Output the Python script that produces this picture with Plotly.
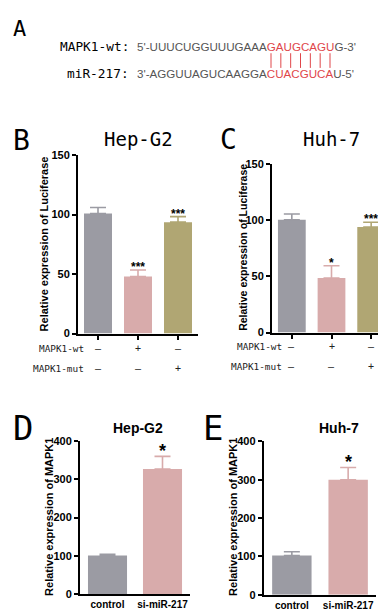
import plotly.graph_objects as go

# ---------------- data ----------------
luc_conditions = ["ctrl", "wt", "mut"]
wt_signs = ["–", "+", "–"]
mut_signs = ["–", "–", "+"]

hep_luc = [101, 48, 93.7]
hep_luc_err = [5, 5.5, 4.6]
hep_luc_stars = ["", "***", "***"]

huh_luc = [100.5, 48.6, 94]
huh_luc_err = [5.2, 11, 4.3]
huh_luc_stars = ["", "*", "***"]

mapk_groups = ["control", "si-miR-217"]
hep_mapk = [101, 327]
hep_mapk_err = [3, 33]
hep_mapk_stars = ["", "*"]

huh_mapk = [102, 300]
huh_mapk_err = [10, 32]
huh_mapk_stars = ["", "*"]

luc_colors = ["#9b9ba3", "#d8abab", "#b0a673"]
mapk_colors = ["#9b9ba3", "#d8abab"]

seq_wt_left = "5'-UUUCUGGUUUGAAA"
seq_wt_red = "GAUGCAGU"
seq_wt_right = "G-3'"
seq_mir_left = "3'-AGGUUAGUCAAGGA"
seq_mir_red = "CUACGUCA"
seq_mir_right = "U-5'"

W, H = 386, 610
def px(p):
    return p / W
def py(p):
    return 1 - p / H

MONO = "DejaVu Sans Mono"
ARIAL = "Liberation Sans, Arial, sans-serif"

fig = go.Figure()

def add_bars(xname, yname, cats, vals, errs, colors, width):
    for c, v, e, col in zip(cats, vals, errs, colors):
        fig.add_trace(go.Bar(
            x=[c], y=[v], width=width, marker=dict(color=col, line=dict(width=0)),
            error_y=dict(type="data", symmetric=False, array=[e], arrayminus=[0],
                         color=col, thickness=1.6, width=8),
            xaxis=xname, yaxis=yname, showlegend=False))

add_bars("x", "y", luc_conditions, hep_luc, hep_luc_err, luc_colors, 0.7)
add_bars("x2", "y2", luc_conditions, huh_luc, huh_luc_err, luc_colors, 0.7)
add_bars("x3", "y3", mapk_groups, hep_mapk, hep_mapk_err, mapk_colors, 0.71)
add_bars("x4", "y4", mapk_groups, huh_mapk, huh_mapk_err, mapk_colors, 0.7)

axis_common = dict(showline=True, linecolor="black", linewidth=2, showgrid=False,
                   zeroline=False, tickcolor="black", tickwidth=2, fixedrange=True)
tickfont = dict(family=ARIAL, size=11, color="black", weight="bold")
xtickfont = dict(family=ARIAL, size=10, color="black", weight="bold")

layout = dict(
    width=W, height=H, margin=dict(l=0, r=0, t=0, b=0),
    paper_bgcolor="white", plot_bgcolor="white", barmode="overlay",
    showlegend=False,
    xaxis=dict(domain=[px(70), px(190)], anchor="y", type="category",
               range=[-0.5, 2.5], showticklabels=False, ticks="outside", ticklen=4,
               **axis_common),
    yaxis=dict(domain=[py(326), py(144)], anchor="x", range=[0, 150],
               tickvals=[0, 50, 100, 150], tickfont=tickfont, ticks="outside", ticklen=4,
               **axis_common),
    xaxis2=dict(domain=[px(264), px(383)], anchor="y2", type="category",
                range=[-0.5, 2.5], showticklabels=False, ticks="outside", ticklen=4,
                **axis_common),
    yaxis2=dict(domain=[py(325), py(153.3)], anchor="x2", range=[0, 150],
                tickvals=[0, 50, 100, 150], tickfont=tickfont, ticks="outside", ticklen=4,
                **axis_common),
    xaxis3=dict(domain=[px(72), px(182)], anchor="y3", type="category",
                range=[-0.5, 1.5], tickfont=xtickfont, ticks="", ticklabelstandoff=0,
                **axis_common),
    yaxis3=dict(domain=[py(591.7), py(435.7)], anchor="x3", range=[0, 400],
                tickvals=[0, 100, 200, 300, 400], tickfont=tickfont, ticks="outside",
                ticklen=4, **axis_common),
    xaxis4=dict(domain=[px(255.7), px(368.3)], anchor="y4", type="category",
                range=[-0.5, 1.5], tickfont=xtickfont, ticks="", ticklabelstandoff=0,
                **axis_common),
    yaxis4=dict(domain=[py(592.3), py(436)], anchor="x4", range=[0, 400],
                tickvals=[0, 100, 200, 300, 400], tickfont=tickfont, ticks="outside",
                ticklen=4, **axis_common),
)
fig.update_layout(**layout)

ann = []

def paper_text(text, x, y, size, family, color="black", xanchor="center",
               yanchor="middle", angle=0, weight="normal"):
    ann.append(dict(text=text, x=px(x), y=py(y), xref="paper", yref="paper",
                    showarrow=False, xanchor=xanchor, yanchor=yanchor, textangle=angle,
                    font=dict(family=family, size=size, color=color, weight=weight)))

# panel letters
paper_text("A", 3, 15, 22, MONO, xanchor="left")
paper_text("B", 3, 129, 28, MONO, xanchor="left")
paper_text("C", 210, 128, 28, MONO, xanchor="left")
paper_text("D", 3, 422, 34, MONO, xanchor="left")
paper_text("E", 193, 422, 34, MONO, xanchor="left")

# panel titles
paper_text("Hep-G2", 130, 127, 19, MONO)
paper_text("Huh-7", 323, 128, 19, MONO)
paper_text("Hep-G2", 129.5, 422, 14, ARIAL, weight="bold")
paper_text("Huh-7", 331, 422, 14, ARIAL, weight="bold")

# y-axis titles
paper_text("Relative expression of Luciferase", 36, 235, 11, ARIAL, angle=-90, weight="bold")
paper_text("Relative expression of Luciferase", 235, 238.5, 10.5, ARIAL, angle=-90, weight="bold")
paper_text("Relative expression of MAPK1", 41, 513, 11, ARIAL, angle=-90, weight="bold")
paper_text("Relative expression of MAPK1", 225, 513, 11, ARIAL, angle=-90, weight="bold")

# panel A sequences
red = "#e0464a"
gray = "#555555"
paper_text("MAPK1-wt:", 123, 33, 12.8, MONO, xanchor="right")
paper_text("miR-217:", 123, 61, 12.8, MONO, xanchor="right")
paper_text(f"{seq_wt_left}<span style='color:{red}'>{seq_wt_red}</span>{seq_wt_right}",
           127, 33, 11.6, ARIAL, color=gray, xanchor="left")
paper_text(f"{seq_mir_left}<span style='color:{red}'>{seq_mir_red}</span>{seq_mir_right}",
           127, 61, 11.6, ARIAL, color=gray, xanchor="left")

shapes = []
n_lines = 7
for i in range(n_lines):
    xx = 263 + i * (322 - 263) / (n_lines - 1)
    shapes.append(dict(type="line", xref="paper", yref="paper", x0=px(xx), x1=px(xx),
                       y0=py(40), y1=py(55), line=dict(color=red, width=1)))

# condition rows under B and C
paper_text("MAPK1-wt", 78, 341, 9.4, MONO, color="#222222", xanchor="right")
paper_text("MAPK1-mut", 78, 362, 9.4, MONO, color="#222222", xanchor="right")
paper_text("MAPK1-wt", 276, 339, 9.4, MONO, color="#222222", xanchor="right")
paper_text("MAPK1-mut", 276, 360, 9.4, MONO, color="#222222", xanchor="right")

for xa, ya_wt, ya_mut in [("x", 341, 362), ("x2", 339, 360)]:
    for c, s1, s2 in zip(luc_conditions, wt_signs, mut_signs):
        for s, yy in [(s1, ya_wt), (s2, ya_mut)]:
            ann.append(dict(text=s, x=c, xref=xa, y=py(yy), yref="paper", showarrow=False,
                            xanchor="center", yanchor="middle",
                            font=dict(family=MONO, size=10, color="#222222")))

# significance stars
def stars(xa, ya, cats, vals, errs, marks, size, shift):
    for c, v, e, m in zip(cats, vals, errs, marks):
        if m:
            ann.append(dict(text=m, x=c, y=v + e, xref=xa, yref=ya, showarrow=False,
                            xanchor="center", yanchor="middle", yshift=shift,
                            font=dict(family=ARIAL, size=size, color="black", weight="bold")))

stars("x", "y", luc_conditions, hep_luc, hep_luc_err, hep_luc_stars, 12, 3)
stars("x2", "y2", luc_conditions, huh_luc, huh_luc_err, huh_luc_stars, 12, 3)
stars("x3", "y3", mapk_groups, hep_mapk, hep_mapk_err, hep_mapk_stars, 18, 5)
stars("x4", "y4", mapk_groups, huh_mapk, huh_mapk_err, huh_mapk_stars, 18, 5)

fig.update_layout(annotations=ann, shapes=shapes)
fig.write_html("out.html")
